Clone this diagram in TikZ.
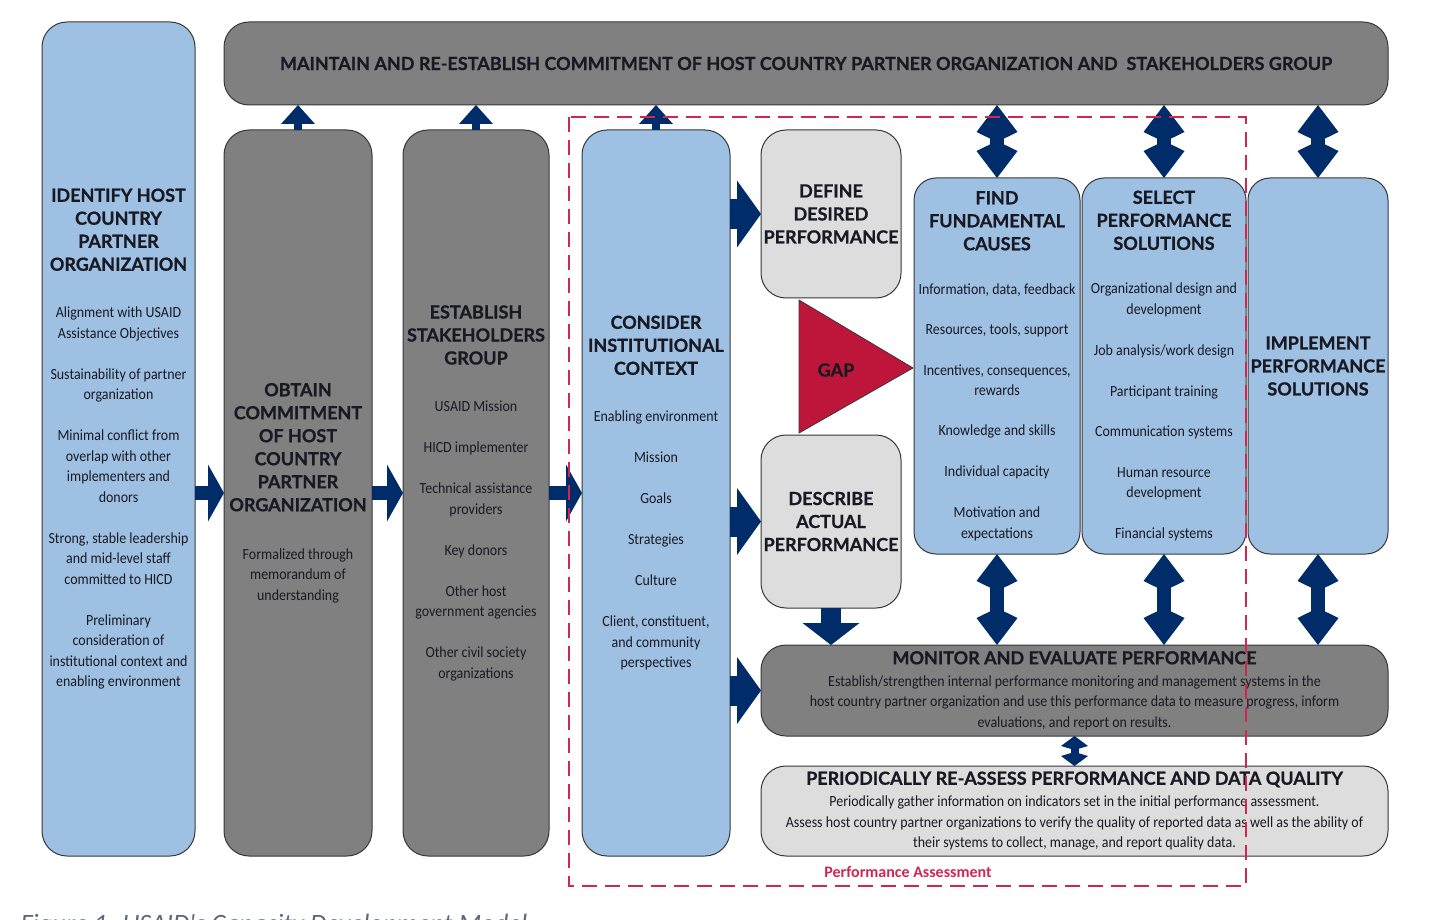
\documentclass[tikz,border=0pt]{standalone}
\usepackage{fontspec}
\usepackage{tikz}
\usetikzlibrary{arrows.meta,positioning}

\newfontfamily\headfont{Lato}[BoldFeatures={FakeBold=0.8}]
\newfontfamily\bodyfont[FakeStretch=0.9]{Carlito}
\newfontfamily\labelfont{Carlito}

\definecolor{paleblue}{RGB}{158,193,227}
\definecolor{midgrey}{RGB}{128,128,128}
\definecolor{lightgrey}{RGB}{221,221,221}
\definecolor{edge}{RGB}{55,55,55}
\definecolor{ink}{RGB}{25,25,35}
\definecolor{navy}{RGB}{0,45,106}
\definecolor{gapred}{RGB}{190,22,58}
\definecolor{dashred}{RGB}{208,38,82}
\definecolor{capgrey}{RGB}{95,105,118}

% title line, title break, gap before the list, gap between items
\newcommand{\hd}[1]{{\headfont\bfseries\fontsize{18}{20.5}\selectfont #1}}
\newcommand{\tl}{\\[2.5pt]}
\newcommand{\tb}{\\[26.5pt]}
\newcommand{\pb}{\\[20.5pt]}

\begin{document}
\begin{tikzpicture}[x=1pt, y=-1pt,
	box/.style={draw=edge, line width=1pt, rounded corners=25pt, inner sep=0pt, outer sep=0pt,
		align=center, text=ink, font=\bodyfont\fontsize{15.5}{20.5}\selectfont},
	bluebox/.style={box, fill=paleblue},
	greybox/.style={box, fill=midgrey},
	lightbox/.style={box, fill=lightgrey},
	tall/.style={minimum width=#1, minimum height=726pt},
	uparr/.style={navy, line width=8pt, -{Triangle[length=19pt, width=34pt, line width=0pt 0 0]}},
	rightarr/.style={navy, line width=14pt, -{Triangle[length=16pt, width=57pt, line width=0pt 0 0]}},
	fatarr/.style={navy, line width=30pt, -{Triangle[length=24pt, width=67pt, line width=0pt 0 0]}},
	downarr/.style={navy, line width=20pt, -{Triangle[length=22pt, width=57pt, line width=0pt 0 0]}},
	bothway/.style={navy, line width=14pt, {Kite[length=37pt, width=41pt, inset=10pt, line width=0pt 0 0]}-{Kite[length=37pt, width=41pt, inset=10pt, line width=0pt 0 0]}},
	smallboth/.style={navy, line width=8pt, {Kite[length=14pt, width=27pt, inset=4pt, line width=0pt 0 0]}-{Kite[length=14pt, width=27pt, inset=4pt, line width=0pt 0 0]}}]
	\useasboundingbox (0,0) rectangle (1436,920);

	% Nodes
	\node[greybox, minimum width=1164pt, minimum height=83pt] (maintain) at (806,63.5)
		{\hd{MAINTAIN AND RE-ESTABLISH COMMITMENT OF HOST COUNTRY PARTNER ORGANIZATION AND \ STAKEHOLDERS GROUP}};
	\node[bluebox, minimum width=153pt, minimum height=834pt] (identify) at (118.5,439)
		{\hd{IDENTIFY HOST}\tl \hd{COUNTRY}\tl \hd{PARTNER}\tl \hd{ORGANIZATION}\tb
		Alignment with USAID\\ Assistance Objectives\pb
		Sustainability of partner\\ organization\pb
		Minimal conflict from\\ overlap with other\\ implementers and\\ donors\pb
		Strong, stable leadership\\ and mid-level staff\\ committed to HICD\pb
		Preliminary\\ consideration of\\ institutional context and\\ enabling environment};
	\node[greybox, tall=148pt] (obtain) at (298,493)
		{\hd{OBTAIN}\tl \hd{COMMITMENT}\tl \hd{OF HOST}\tl \hd{COUNTRY}\tl \hd{PARTNER}\tl \hd{ORGANIZATION}\\[27.5pt]
		Formalized through\\ memorandum of\\ understanding};
	\node[greybox, tall=146pt, right=31pt of obtain] (establish)
		{\hd{ESTABLISH}\tl \hd{STAKEHOLDERS}\tl \hd{GROUP}\tb
		USAID Mission\pb HICD implementer\pb Technical assistance\\ providers\pb Key donors\pb
		Other host\\ government agencies\pb Other civil society\\ organizations};
	\node[bluebox, tall=148pt, right=33pt of establish] (consider)
		{\hd{CONSIDER}\tl \hd{INSTITUTIONAL}\tl \hd{CONTEXT}\tb
		Enabling environment\pb Mission\pb Goals\pb Strategies\pb Culture\pb
		Client, constituent,\\ and community\\ perspectives};
	\node[lightbox, minimum width=140pt, minimum height=168pt] (define) at (831,214)
		{\hd{DEFINE}\tl \hd{DESIRED}\tl \hd{PERFORMANCE}};
	\node[lightbox, minimum width=140pt, minimum height=173pt] (describe) at (831,521.5)
		{\hd{DESCRIBE}\tl \hd{ACTUAL}\tl \hd{PERFORMANCE}};
	\node[bluebox, minimum width=166pt, minimum height=376pt, rounded corners=22pt] (find) at (997,366)
		{\hd{FIND}\tl \hd{FUNDAMENTAL}\tl \hd{CAUSES}\\[23.5pt]
		Information, data, feedback\\[19.5pt] Resources, tools, support\pb
		Incentives, consequences,\\ rewards\\[19.5pt] Knowledge and skills\pb Individual capacity\pb
		Motivation and\\ expectations};
	\node[bluebox, minimum width=164pt, minimum height=376pt, rounded corners=22pt, right=2pt of find] (select)
		{\hd{SELECT}\tl \hd{PERFORMANCE}\tl \hd{SOLUTIONS}\\[23.5pt]
		Organizational design and\\ development\pb Job analysis/work design\pb Participant training\\[19.5pt]
		Communication systems\pb Human resource\\ development\pb Financial systems};
	\node[bluebox, minimum width=140pt, minimum height=376pt, rounded corners=22pt, right=2pt of select] (implement)
		{\hd{IMPLEMENT}\tl \hd{PERFORMANCE}\tl \hd{SOLUTIONS}};
	\node[greybox, minimum width=627pt, minimum height=91pt] (monitor) at (1074.5,690.5)
		{\hd{MONITOR AND EVALUATE PERFORMANCE}\\[1.5pt]
		Establish/strengthen internal performance monitoring and management systems in the\\
		host country partner organization and use this performance data to measure progress, inform\\
		evaluations, and report on results.};
	\node[lightbox, minimum width=627pt, minimum height=90pt, below=30pt of monitor] (reassess)
		{\hd{PERIODICALLY RE-ASSESS PERFORMANCE AND DATA QUALITY}\\[1.5pt]
		Periodically gather information on indicators set in the initial performance assessment.\\
		Assess host country partner organizations to verify the quality of reported data as well as the ability of\\
		their systems to collect, manage, and report quality data.};

	% Gap
	\filldraw[fill=gapred, draw=edge, line width=0.8pt] (799,300) -- (913,368) -- (799,433) -- cycle;
	\node[text=ink] (gap) at (836,370) {\hd{GAP}};

	% Arrows
	\draw[uparr] (obtain.north) -- (obtain.north |- maintain.south);
	\draw[uparr] (establish.north) -- (establish.north |- maintain.south);
	\draw[uparr] (consider.north) -- (consider.north |- maintain.south);
	\draw[rightarr] (identify.east |- obtain.west) -- (obtain.west);
	\draw[rightarr] (obtain.east) -- (establish.west);
	\draw[rightarr] (establish.east) -- (consider.west);
	\draw[fatarr] (consider.east |- define.west) -- (define.west);
	\draw[fatarr] (consider.east |- describe.west) -- (describe.west);
	\draw[fatarr] (consider.east |- monitor.west) -- (monitor.west);
	\draw[downarr] (describe.south) -- (describe.south |- monitor.north);
	\foreach \col in {find, select, implement} {
		\draw[bothway] (\col.north |- maintain.south) -- (\col.north);
		\draw[bothway] (\col.south) -- (\col.south |- monitor.north);
	}
	\draw[smallboth] (monitor.south) -- (reassess.north);

	% Labels
	\draw[dashred, line width=1.5pt, dash pattern=on 15pt off 8pt] (569,117) rectangle (1246,886);
	\node[text=dashred, font=\labelfont\bfseries\fontsize{16}{18}\selectfont] (pa) at (908,872) {Performance Assessment};
	\node[anchor=base west, text=capgrey, font=\labelfont\itshape\fontsize{26.5}{30}\selectfont] (caption) at (17,932)
		{Figure 1: USAID's Capacity Development Model};

\end{tikzpicture}
\end{document}
